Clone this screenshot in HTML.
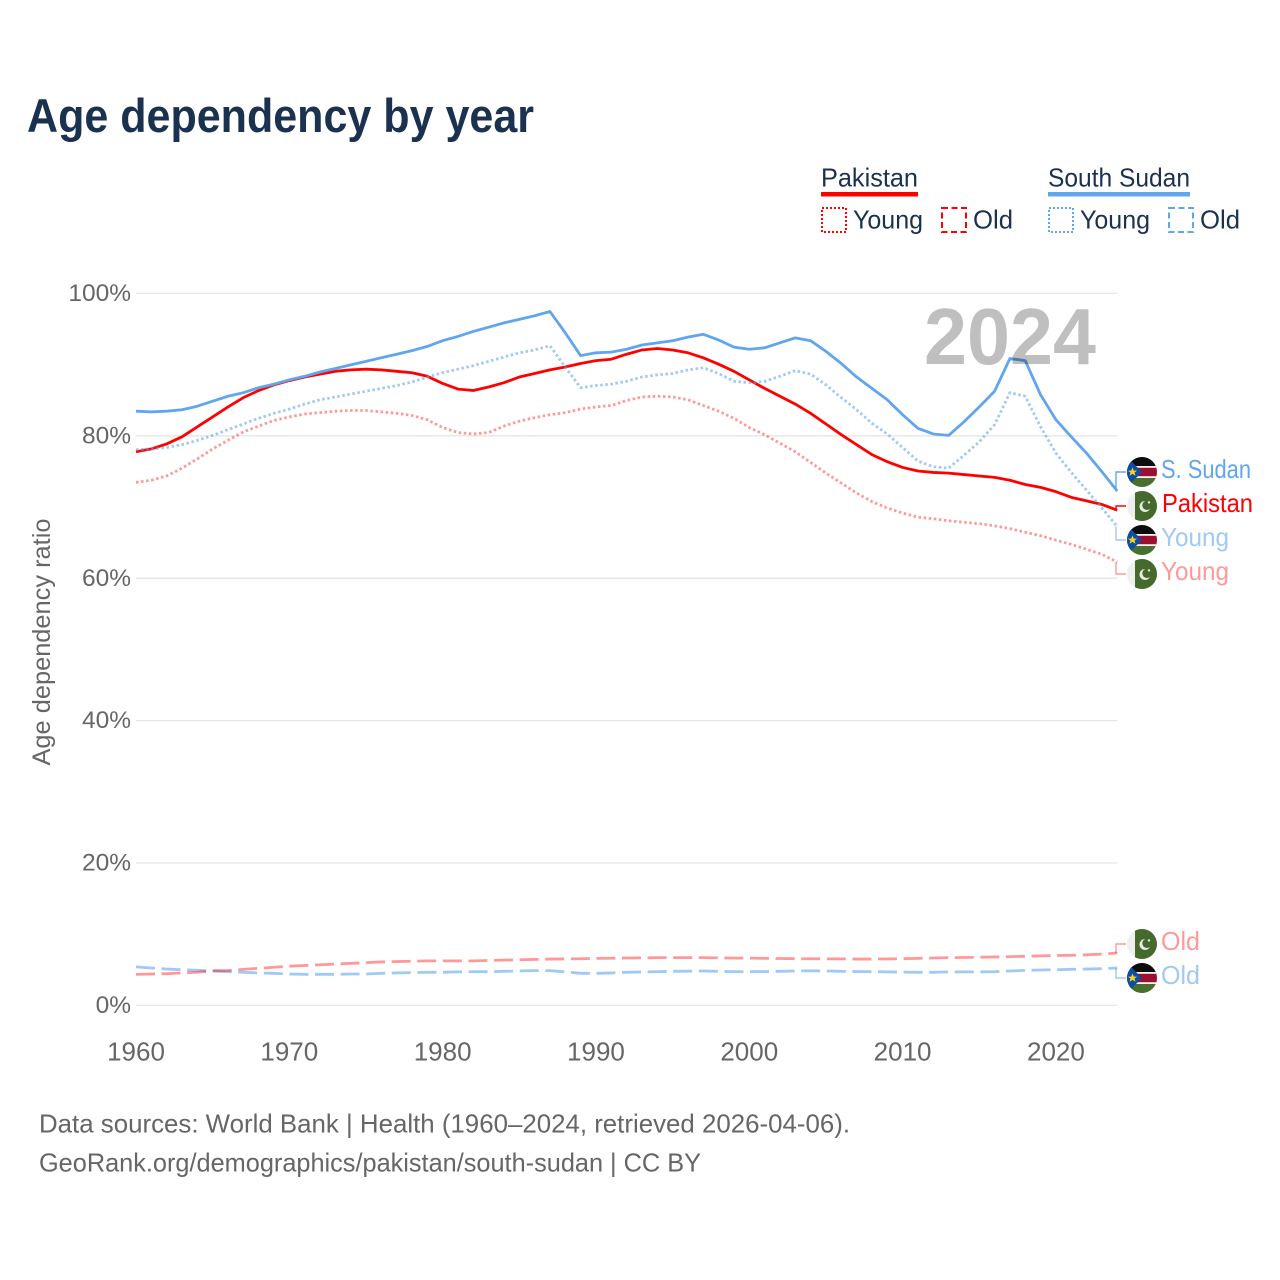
<!DOCTYPE html>
<html lang="en">
<head>
<meta charset="utf-8">
<title>Age dependency by year</title>
<style>
html,body{margin:0;padding:0;background:#fff;}
#chart{display:block;width:1280px;height:1280px;font-family:"Liberation Sans",sans-serif;}
</style>
</head>
<body>
<svg id="chart" xmlns="http://www.w3.org/2000/svg" width="1280" height="1280" viewBox="0 0 1280 1280">
  <defs>
    <clipPath id="flag-clip"><circle cx="0" cy="0" r="15"/></clipPath>
    <g id="flag-pk">
      <g clip-path="url(#flag-clip)">
        <rect x="-15" y="-15" width="30" height="30" fill="#efefef"/>
        <rect x="-7" y="-15" width="22" height="30" fill="#466a2e"/>
        <circle cx="3" cy="0.5" r="5.5" fill="#e8ebe4"/>
        <circle cx="5" cy="-0.7" r="4.7" fill="#466a2e"/>
        <circle cx="7" cy="-3.6" r="1.2" fill="#e8ebe4"/>
      </g>
    </g>
    <g id="flag-ss">
      <g clip-path="url(#flag-clip)">
        <rect x="-15" y="-15" width="30" height="10" fill="#0d0d0d"/>
        <rect x="-15" y="-5" width="30" height="10" fill="#9c0f2e"/>
        <rect x="-15" y="-6" width="30" height="1.8" fill="#f2f2f2"/>
        <rect x="-15" y="4.2" width="30" height="1.8" fill="#f2f2f2"/>
        <rect x="-15" y="6" width="30" height="9" fill="#47702f"/>
        <polygon points="-15,-15 0,0 -15,15" fill="#0b4ea2"/>
        <polygon points="-9.5,-4.5 -8.2,-1.4 -5,-1.4 -7.5,0.6 -6.5,3.8 -9.5,1.9 -12.5,3.8 -11.5,0.6 -14,-1.4 -10.8,-1.4" fill="#fcd116"/>
      </g>
    </g>
  </defs>

  <text x="27" y="132" font-size="47" font-weight="700" fill="#1a3150" textLength="507" lengthAdjust="spacingAndGlyphs">Age dependency by year</text>

  <g>
    <g fill="#1a3150" font-size="26">
      <text x="821" y="186.5" textLength="97" lengthAdjust="spacingAndGlyphs">Pakistan</text>
      <rect x="821" y="192" width="97" height="4.5" fill="#ff0000"/>
      <rect x="822" y="208" width="24" height="24" fill="none" stroke="#ff0000" stroke-width="2" stroke-dasharray="2 2"/>
      <text x="853" y="228.5" textLength="70" lengthAdjust="spacingAndGlyphs">Young</text>
      <rect x="942" y="208" width="24" height="24" fill="none" stroke="#ff0000" stroke-width="2" stroke-dasharray="6 3.5"/>
      <text x="973" y="228.5" textLength="40" lengthAdjust="spacingAndGlyphs">Old</text>
    </g>
    <g fill="#1a3150" font-size="26">
      <text x="1048" y="186.5" textLength="142" lengthAdjust="spacingAndGlyphs">South Sudan</text>
      <rect x="1048" y="192" width="142" height="4.5" fill="#60a5ee"/>
      <rect x="1049" y="208" width="24" height="24" fill="none" stroke="#60a5ee" stroke-width="2" stroke-dasharray="2 2"/>
      <text x="1080" y="228.5" textLength="70" lengthAdjust="spacingAndGlyphs">Young</text>
      <rect x="1169" y="208" width="24" height="24" fill="none" stroke="#60a5ee" stroke-width="2" stroke-dasharray="6 3.5"/>
      <text x="1200" y="228.5" textLength="40" lengthAdjust="spacingAndGlyphs">Old</text>
    </g>
  </g>

  <g id="grid"></g>
  <g id="y-ticks"></g>
  <g id="x-ticks"></g>
  <text transform="translate(50,642) rotate(-90)" text-anchor="middle" font-size="25" fill="#666666" textLength="247" lengthAdjust="spacingAndGlyphs">Age dependency ratio</text>

  <g id="series"></g>
  <g id="end-labels"></g>

  <text x="924" y="364" font-size="80" font-weight="700" fill="#000000" fill-opacity="0.25" textLength="172" lengthAdjust="spacingAndGlyphs">2024</text>

  <g fill="#666666" font-size="26">
    <text x="39" y="1132.5" textLength="811" lengthAdjust="spacingAndGlyphs">Data sources: World Bank | Health (1960–2024, retrieved 2026-04-06).</text>
    <text x="39" y="1171.5" textLength="662" lengthAdjust="spacingAndGlyphs">GeoRank.org/demographics/pakistan/south-sudan | CC BY</text>
  </g>
</svg>

<script>
const firstYear = 1960;
const xTickYears = [1960, 1970, 1980, 1990, 2000, 2010, 2020];
const yTickValues = [0, 20, 40, 60, 80, 100];

const pakistanTotal = [77.7,78.1,78.8,79.8,81.2,82.6,84.0,85.3,86.3,87.1,87.7,88.2,88.6,89.0,89.2,89.3,89.2,89.0,88.8,88.3,87.3,86.5,86.3,86.8,87.4,88.2,88.7,89.2,89.6,90.1,90.5,90.7,91.4,92.0,92.2,92.0,91.6,90.9,90.0,89.0,87.8,86.6,85.5,84.4,83.1,81.6,80.1,78.7,77.3,76.3,75.5,75.0,74.8,74.7,74.5,74.3,74.1,73.7,73.1,72.7,72.1,71.3,70.8,70.3,69.5];
const southSudanTotal = [83.4,83.3,83.4,83.6,84.1,84.8,85.5,86.0,86.7,87.2,87.8,88.3,88.9,89.4,89.9,90.4,90.9,91.4,91.9,92.5,93.3,93.9,94.6,95.2,95.8,96.3,96.8,97.4,94.4,91.2,91.6,91.7,92.1,92.7,93.0,93.3,93.8,94.2,93.4,92.4,92.1,92.3,93.0,93.7,93.3,91.8,90.1,88.2,86.6,85.0,82.9,81.0,80.2,80.0,81.9,84.0,86.2,90.8,90.5,85.7,82.2,79.8,77.5,74.9,72.2];
const pakistanYoung = [73.4,73.7,74.3,75.4,76.7,78.1,79.3,80.5,81.3,82.1,82.6,83.0,83.2,83.4,83.5,83.5,83.3,83.1,82.8,82.2,81.1,80.4,80.2,80.4,81.3,82.0,82.5,82.9,83.2,83.7,84.0,84.2,84.9,85.4,85.5,85.4,85.0,84.2,83.4,82.4,81.1,80.1,78.9,77.7,76.2,74.7,73.3,71.9,70.7,69.8,69.1,68.5,68.3,68.0,67.8,67.6,67.3,66.9,66.4,65.9,65.3,64.7,64.0,63.3,62.2];
const southSudanYoung = [78.0,78.1,78.3,78.7,79.3,80.0,80.8,81.6,82.4,83.1,83.7,84.4,85.0,85.4,85.8,86.2,86.6,87.0,87.5,88.2,88.8,89.3,89.8,90.4,91.0,91.6,92.0,92.6,89.6,86.7,87.0,87.2,87.6,88.2,88.5,88.7,89.2,89.5,88.7,87.6,87.4,87.6,88.3,89.1,88.6,87.1,85.3,83.6,81.7,80.2,78.3,76.4,75.6,75.4,77.2,79.1,81.5,86.0,85.5,81.2,77.5,74.8,72.3,69.8,67.2];
const pakistanOld = [4.3,4.35,4.4,4.5,4.6,4.8,4.85,5.0,5.15,5.3,5.45,5.55,5.65,5.75,5.85,5.95,6.05,6.1,6.15,6.2,6.2,6.2,6.2,6.25,6.3,6.35,6.4,6.45,6.47,6.5,6.55,6.57,6.6,6.62,6.65,6.65,6.65,6.65,6.62,6.6,6.58,6.55,6.53,6.5,6.5,6.48,6.48,6.45,6.45,6.48,6.5,6.55,6.6,6.65,6.67,6.7,6.75,6.79,6.84,6.9,6.95,6.98,7.05,7.15,7.3];
const southSudanOld = [5.35,5.2,5.05,4.95,4.87,4.78,4.68,4.59,4.5,4.45,4.35,4.31,4.31,4.31,4.35,4.35,4.45,4.5,4.55,4.59,4.59,4.65,4.68,4.68,4.73,4.78,4.83,4.83,4.65,4.45,4.45,4.5,4.59,4.65,4.68,4.73,4.75,4.78,4.73,4.68,4.68,4.7,4.73,4.78,4.8,4.78,4.73,4.7,4.68,4.65,4.62,4.59,4.59,4.65,4.65,4.65,4.68,4.78,4.87,4.92,4.95,5.01,5.05,5.1,5.2];

const SVG_NS = 'http://www.w3.org/2000/svg';
const xScale = function (year) { return 136 + (year - 1960) * 15.332; };
const yScale = function (value) { return 1005 - value * 7.12; };

function make(tag, parent, attrs) {
  const el = document.createElementNS(SVG_NS, tag);
  Object.keys(attrs).forEach(function (k) { el.setAttribute(k, attrs[k]); });
  parent.appendChild(el);
  return el;
}

const gridGroup = document.getElementById('grid');
const yTickGroup = document.getElementById('y-ticks');
const xTickGroup = document.getElementById('x-ticks');
const seriesGroup = document.getElementById('series');
const labelGroup = document.getElementById('end-labels');
const lastYear = firstYear + pakistanTotal.length - 1;

yTickValues.forEach(function (v) {
  const line = make('line', gridGroup, { x1: xScale(firstYear), x2: xScale(lastYear), y1: yScale(v) + 0.4, y2: yScale(v) + 0.4, stroke: '#e6e6e6', 'stroke-width': 1.3 });
  
  
  const label = make('text', yTickGroup, { x: 131, y: yScale(v) + 8, 'text-anchor': 'end', 'font-size': 24.5, fill: '#666666' });
  
  
  label.textContent = v + '%';
});

xTickYears.forEach(function (yr) {
  const label = make('text', xTickGroup, { x: xScale(yr), y: 1060.5, 'text-anchor': 'middle', 'font-size': 26, fill: '#666666' });
  
  
  label.textContent = String(yr);
});

function linePath(values) {
  return values.map(function (v, i) {
    return (i ? 'L' : 'M') + xScale(firstYear + i).toFixed(2) + ' ' + yScale(v).toFixed(2);
  }).join(' ');
}

function drawLine(values, color, opacity, dash) {
  const path = make('path', seriesGroup, { d: linePath(values), fill: 'none', stroke: color, 'stroke-opacity': opacity, 'stroke-width': 2.8, 'stroke-linejoin': 'round' });
  if (dash) path.setAttribute('stroke-dasharray', dash);
  return path;
}

const linePakistan = drawLine(pakistanTotal, '#ff0000', 1, '');


const lineSouthSudan = drawLine(southSudanTotal, '#60a5ee', 1, '');


const linePakistanYoung = drawLine(pakistanYoung, '#ff0000', 0.4, '2.5 2.6');


const lineSouthSudanYoung = drawLine(southSudanYoung, '#60a5ee', 0.6, '2.5 2.6');


const lineSouthSudanOld = drawLine(southSudanOld, '#60a5ee', 0.6, '19 6.6');


const linePakistanOld = drawLine(pakistanOld, '#ff0000', 0.4, '19 6.6');



function drawEnd(values, labelY, text, width, color, opacity, flagId, textX) {
  const endY = yScale(values[values.length - 1]);
  const group = make('g', labelGroup, {});
  const leader = make('path', group, { d: 'M1116 ' + endY.toFixed(1) + ' V' + labelY + ' H1126', fill: 'none', stroke: color, 'stroke-opacity': opacity, 'stroke-width': 1.4 });
  const flag = make('use', group, { href: '#' + flagId, transform: 'translate(1142,' + labelY + ')' });
  const label = make('text', group, { x: textX, y: labelY + 6, 'font-size': 26, fill: color, 'fill-opacity': opacity, textLength: width, lengthAdjust: 'spacingAndGlyphs' });
  label.textContent = text;
  return { group: group, leader: leader, flag: flag, label: label };
}

const endSouthSudan = drawEnd(southSudanTotal, 472, 'S. Sudan', 90, '#60a5ee', 1, 'flag-ss', 1161);


const endPakistan = drawEnd(pakistanTotal, 506, 'Pakistan', 91, '#ff0000', 1, 'flag-pk', 1162);


const endSouthSudanYoung = drawEnd(southSudanYoung, 540, 'Young', 68, '#60a5ee', 0.6, 'flag-ss', 1161);


const endPakistanYoung = drawEnd(pakistanYoung, 574, 'Young', 68, '#ff0000', 0.4, 'flag-pk', 1161);


const endPakistanOld = drawEnd(pakistanOld, 944, 'Old', 39, '#ff0000', 0.4, 'flag-pk', 1161);


const endSouthSudanOld = drawEnd(southSudanOld, 978, 'Old', 39, '#60a5ee', 0.6, 'flag-ss', 1161);


</script>
</body>
</html>
